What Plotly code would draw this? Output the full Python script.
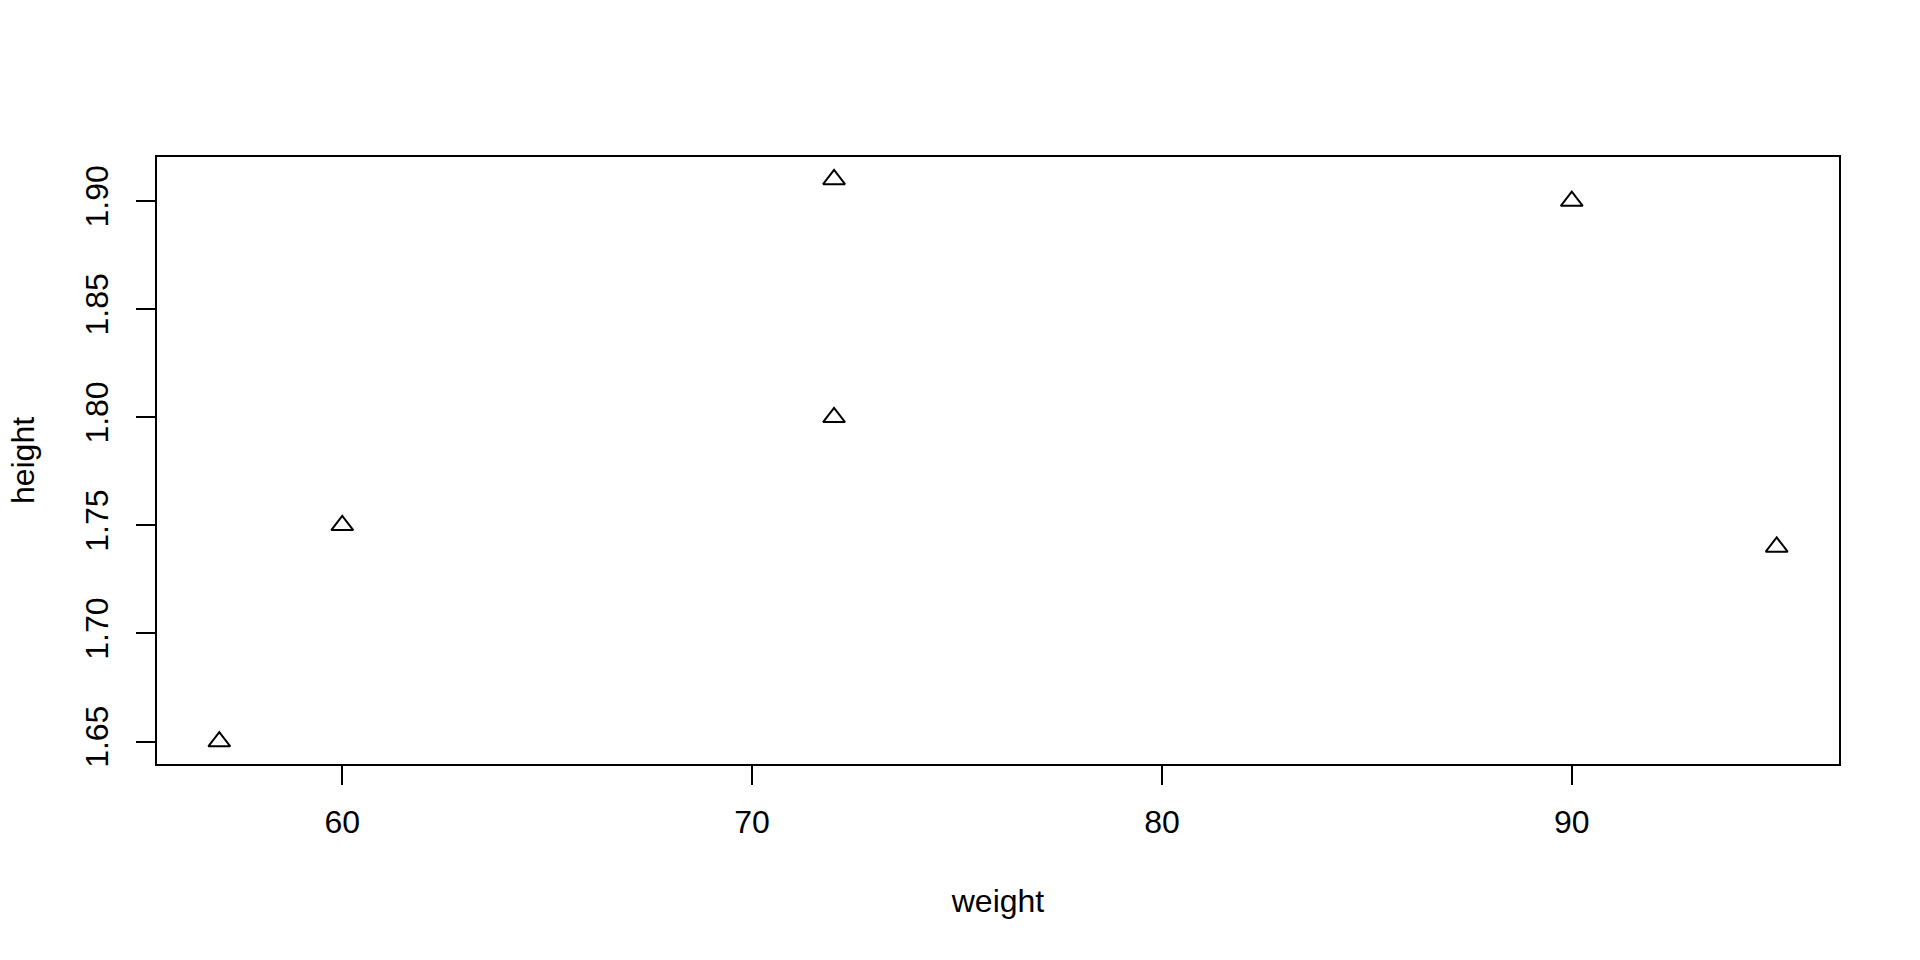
import plotly.graph_objects as go

# data
weight = [57, 60, 72, 72, 90, 95]
height = [1.65, 1.75, 1.91, 1.80, 1.90, 1.74]

x_ticks = [60, 70, 80, 90]
y_ticks = [1.65, 1.70, 1.75, 1.80, 1.85, 1.90]


def r_range(vals):
    # R pads the data range by 4% on each side
    lo, hi = min(vals), max(vals)
    pad = (hi - lo) * 0.04
    return [lo - pad, hi + pad]


font_family = "Liberation Sans, Arial, Helvetica, sans-serif"

fig = go.Figure()

fig.add_trace(go.Scatter(
    x=weight,
    y=height,
    mode='markers',
    marker=dict(
        symbol='triangle-up-open',
        size=19,
        color='black',
        line=dict(width=2, color='black')
    ),
    showlegend=False
))

axis_common = dict(
    showgrid=False,
    zeroline=False,
    showline=True,
    linecolor='black',
    linewidth=2,
    mirror=True,
    ticks='outside',
    ticklen=19,
    tickwidth=2,
    tickcolor='black',
    tickfont=dict(family=font_family, size=32, color='black'),
)

fig.update_xaxes(
    range=r_range(weight),
    tickvals=x_ticks,
    ticktext=[str(v) for v in x_ticks],
    ticklabelstandoff=10,
    title=dict(text='weight', font=dict(family=font_family, size=32, color='black'), standoff=50),
    **axis_common
)

fig.update_yaxes(
    range=r_range(height),
    tickvals=y_ticks,
    ticktext=[f"{v:.2f}" for v in y_ticks],
    tickangle=-90,
    ticklabelstandoff=15,
    title=dict(text='height', font=dict(family=font_family, size=32, color='black'), standoff=35),
    **axis_common
)

fig.update_layout(
    width=1920,
    height=960,
    margin=dict(l=157, r=81, t=157, b=196, autoexpand=False),
    plot_bgcolor='white',
    paper_bgcolor='white',
    font=dict(family=font_family, color='black'),
)

# drop the browser's default 8px body margin so the figure sits at 0,0
fig.write_html("out.html", config={'displayModeBar': False},
               post_script="document.body.style.margin='0';")
